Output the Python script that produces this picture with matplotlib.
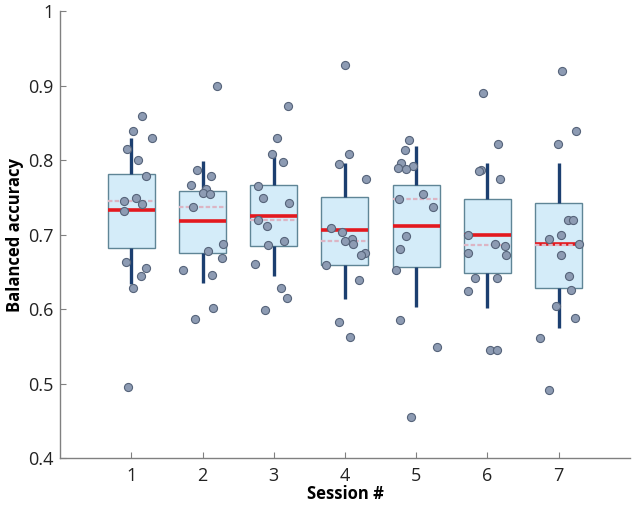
import matplotlib
matplotlib.use("Agg")
import matplotlib.pyplot as plt
import numpy as np

plt.rcParams['font.family'] = ['Open Sans', 'DejaVu Sans']

sessions = [1, 2, 3, 4, 5, 6, 7]

# box statistics
q1 = [0.682, 0.676, 0.685, 0.659, 0.657, 0.649, 0.629]
medians = [0.7325, 0.718, 0.725, 0.706, 0.711, 0.699, 0.687]
q3 = [0.782, 0.759, 0.766, 0.751, 0.766, 0.748, 0.742]
means = [0.745, 0.737, 0.720, 0.692, 0.748, 0.686, 0.686]
whis_lo = [0.634, 0.635, 0.645, 0.613, 0.603, 0.601, 0.575]
whis_hi = [0.830, 0.799, 0.808, 0.796, 0.819, 0.796, 0.796]

# individual values per session
vals_s1 = [0.859, 0.839, 0.829, 0.815, 0.800, 0.779, 0.749, 0.745, 0.741, 0.732, 0.663, 0.655, 0.644, 0.629, 0.496]
vals_s2 = [0.900, 0.787, 0.779, 0.766, 0.761, 0.756, 0.755, 0.737, 0.687, 0.678, 0.668, 0.653, 0.646, 0.601, 0.587]
vals_s3 = [0.873, 0.830, 0.808, 0.798, 0.765, 0.749, 0.743, 0.719, 0.712, 0.691, 0.686, 0.661, 0.628, 0.615, 0.599]
vals_s4 = [0.928, 0.808, 0.795, 0.775, 0.709, 0.703, 0.694, 0.692, 0.688, 0.675, 0.673, 0.659, 0.639, 0.583, 0.563]
vals_s5 = [0.827, 0.814, 0.796, 0.792, 0.789, 0.788, 0.755, 0.748, 0.737, 0.698, 0.681, 0.652, 0.586, 0.549, 0.455]
vals_s6 = [0.890, 0.822, 0.787, 0.786, 0.775, 0.699, 0.687, 0.685, 0.676, 0.672, 0.642, 0.642, 0.624, 0.545, 0.545]
vals_s7 = [0.919, 0.839, 0.821, 0.719, 0.719, 0.699, 0.694, 0.688, 0.672, 0.645, 0.626, 0.604, 0.588, 0.561, 0.492]

# horizontal jitter of each point (session units)
jit_s1 = [0.15, 0.03, 0.29, -0.06, 0.09, 0.20, 0.07, -0.10, 0.15, -0.11, -0.08, 0.20, 0.13, 0.03, -0.05]
jit_s2 = [0.20, -0.08, 0.12, -0.16, 0.05, 0.00, 0.10, -0.13, 0.29, 0.07, 0.27, -0.28, 0.13, 0.15, -0.10]
jit_s3 = [0.20, 0.05, -0.03, 0.13, -0.22, -0.15, 0.21, -0.22, -0.09, 0.14, -0.08, -0.27, 0.10, 0.18, -0.13]
jit_s4 = [0.00, 0.06, -0.08, 0.29, -0.19, -0.04, 0.10, 0.00, 0.11, 0.28, 0.23, -0.27, 0.19, -0.08, 0.07]
jit_s5 = [-0.10, -0.16, -0.21, -0.05, -0.25, -0.14, 0.09, -0.24, 0.23, -0.15, -0.23, -0.29, -0.23, 0.29, -0.08]
jit_s6 = [-0.06, 0.15, -0.09, -0.12, 0.17, -0.27, 0.11, 0.24, -0.27, 0.26, -0.18, 0.14, -0.27, 0.03, 0.14]
jit_s7 = [0.05, 0.25, -0.01, 0.13, 0.20, 0.03, -0.13, 0.29, 0.04, 0.15, 0.18, -0.04, 0.23, -0.26, -0.13]

all_vals = [vals_s1, vals_s2, vals_s3, vals_s4, vals_s5, vals_s6, vals_s7]
all_jit = [jit_s1, jit_s2, jit_s3, jit_s4, jit_s5, jit_s6, jit_s7]

yticks = [0.4, 0.5, 0.6, 0.7, 0.8, 0.9, 1.0]
ytick_labels = ['0.4', '0.5', '0.6', '0.7', '0.8', '0.9', '1']

fig = plt.figure(figsize=(6.33, 5.12), dpi=100)
ax = fig.add_axes([0.095, 0.105, 0.90, 0.8735])

stats = []
for i in range(len(sessions)):
    stats.append(dict(med=medians[i], q1=q1[i], q3=q3[i], mean=means[i],
                      whislo=whis_lo[i], whishi=whis_hi[i], fliers=[]))

ax.bxp(stats, positions=sessions, widths=0.66, patch_artist=True,
       showcaps=False, showfliers=False, showmeans=True, meanline=True,
       boxprops=dict(facecolor='#d4ecf9', edgecolor='#5f8596', linewidth=1.0),
       whiskerprops=dict(color='#1c3f70', linewidth=2.4, solid_capstyle='butt'),
       medianprops=dict(color='#e3191f', linewidth=2.6, solid_capstyle='butt'),
       meanprops=dict(color='#dcb5c4', linewidth=1.6, linestyle=(0, (2, 1))))

for i, s in enumerate(sessions):
    xs = np.array(all_jit[i]) + s
    ax.scatter(xs, all_vals[i], s=34, facecolor='#8d9bb3', edgecolor='#56647a',
               linewidth=0.8, zorder=5)

ax.set_xlim(0, 8)
ax.set_ylim(0.4, 1.0)
ax.set_xticks(sessions)
ax.set_xticklabels([str(s) for s in sessions])
ax.set_yticks(yticks)
ax.set_yticklabels(ytick_labels)

for sp in ['top', 'right']:
    ax.spines[sp].set_visible(False)
for sp in ['left', 'bottom']:
    ax.spines[sp].set_color('#808080')
    ax.spines[sp].set_linewidth(1.0)
ax.tick_params(direction='in', length=4, color='#808080', labelsize=13, labelcolor='#222222')
ax.tick_params(axis='x', pad=6)
ax.tick_params(axis='y', pad=5)

ax.set_xlabel('Session #', fontsize=12, fontweight='bold', labelpad=0)
ax.set_ylabel('Balanced accuracy', fontsize=12, fontweight='bold', labelpad=3)

fig.savefig('out.png', dpi=100)
